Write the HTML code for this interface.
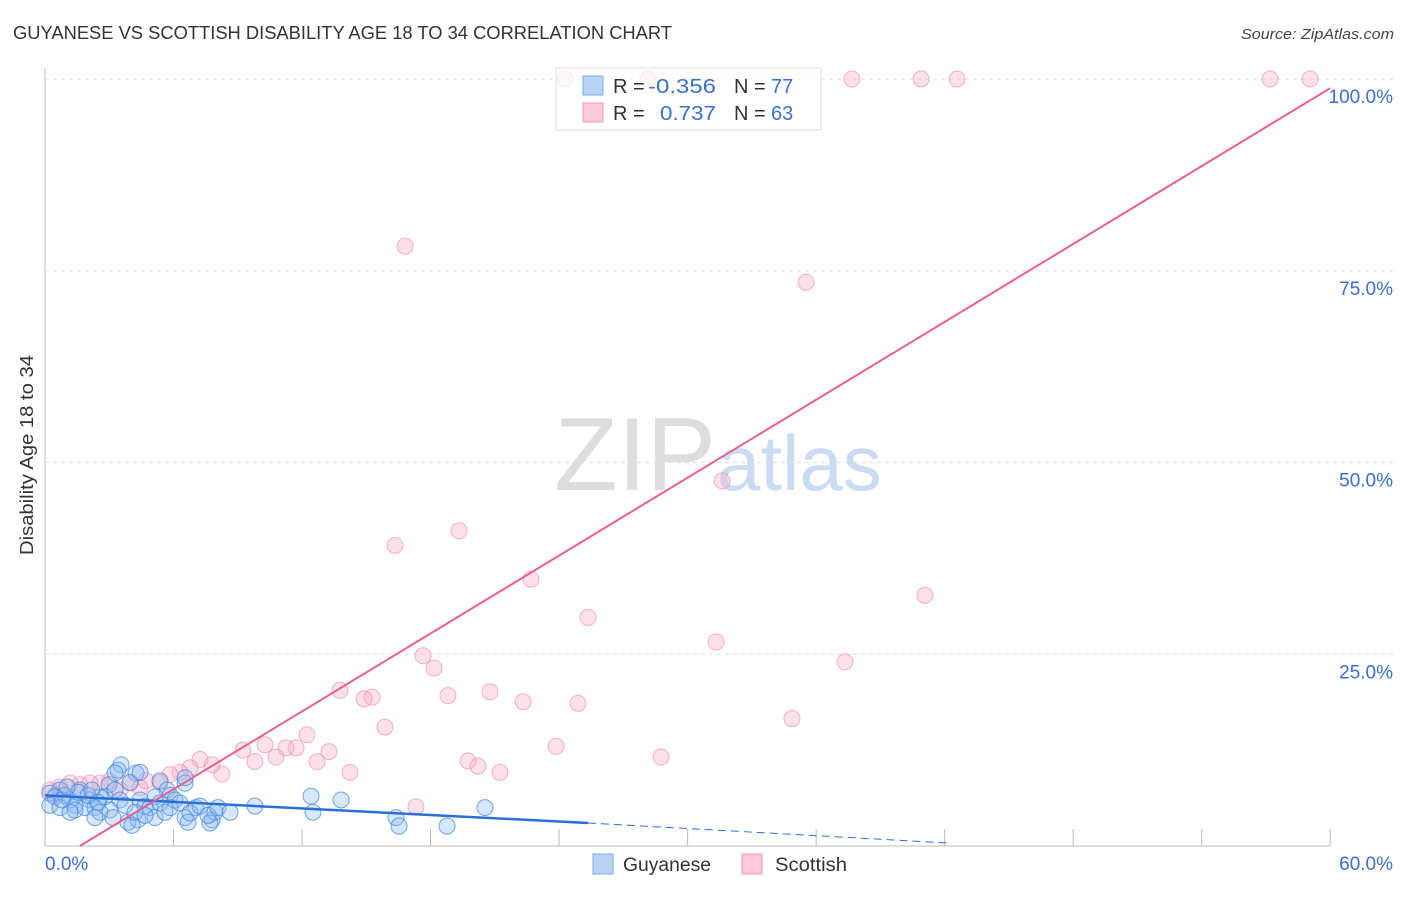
<!DOCTYPE html>
<html><head><meta charset="utf-8"><style>
body{margin:0;background:#fff;font-family:"Liberation Sans",sans-serif}
svg text{font-family:"Liberation Sans",sans-serif}
</style></head><body>
<svg id="chart" width="1406" height="892" xmlns="http://www.w3.org/2000/svg">
<text x="13" y="39" font-size="18" fill="#333" textLength="659" lengthAdjust="spacingAndGlyphs">GUYANESE VS SCOTTISH DISABILITY AGE 18 TO 34 CORRELATION CHART</text>
<text x="1394" y="39" font-size="15" fill="#444" font-style="italic" text-anchor="end" textLength="153" lengthAdjust="spacingAndGlyphs">Source: ZipAtlas.com</text>
<text transform="translate(33,455) rotate(-90)" font-size="18" fill="#333" text-anchor="middle" textLength="200" lengthAdjust="spacingAndGlyphs">Disability Age 18 to 34</text>
<g>
<text x="635" y="490" font-size="104" font-family="Liberation Serif,serif" fill="#ddd" text-anchor="middle">ZIP</text>
<text x="717" y="490" font-size="78" fill="#cbdcf2">atlas</text>
</g>
<g id="grid"></g><g id="pink"></g><g id="blue"></g><g id="lines"></g>
<g>
<rect x="556" y="68" width="265" height="62" fill="rgba(255,255,255,0.75)" stroke="#ddd"/>
<rect x="583" y="76" width="20" height="19" fill="#b9d3f5" stroke="#7aa8e8"/>
<rect x="583" y="103" width="20" height="19" fill="#fbcbd8" stroke="#f29bb4"/>
<text x="613" y="93" font-size="20" fill="#333">R =</text>
<text x="648" y="93" font-size="20" fill="#3b6fd0" textLength="68" lengthAdjust="spacingAndGlyphs">-0.356</text>
<text x="734" y="93" font-size="20" fill="#333">N =</text>
<text x="771" y="93" font-size="20" fill="#3b6fd0">77</text>
<text x="613" y="120" font-size="20" fill="#333">R =</text>
<text x="660" y="120" font-size="20" fill="#3b6fd0" textLength="56" lengthAdjust="spacingAndGlyphs">0.737</text>
<text x="734" y="120" font-size="20" fill="#333">N =</text>
<text x="771" y="120" font-size="20" fill="#3b6fd0">63</text>
</g>
<g>
<rect x="593" y="854" width="20" height="20" fill="#b9d3f5" stroke="#7aa8e8"/>
<text x="623" y="871" font-size="19" fill="#333" textLength="88" lengthAdjust="spacingAndGlyphs">Guyanese</text>
<rect x="742" y="854" width="20" height="20" fill="#fbcbd8" stroke="#f29bb4"/>
<text x="775" y="871" font-size="19" fill="#333" textLength="72" lengthAdjust="spacingAndGlyphs">Scottish</text>
</g>
</svg>
<script>
const yTicks=[25,50,75,100];
const yTickLabels=["25.0%","50.0%","75.0%","100.0%"];
const xTicks=[6,12,18,24,30,36,42,48,54,60];
const xEndLabels=["0.0%","60.0%"];
const pinkX=[24.28,28.15,37.67,40.90,42.58,57.19,59.06,16.81,35.53,31.61,19.33,16.34,22.69,41.08,25.35,31.33,17.65,18.16,37.35,13.77,15.27,14.89,18.81,20.78,22.32,24.88,15.87,34.87,23.86,28.76,19.75,20.21,21.24,17.32,14.24,13.26,11.72,11.25,10.27,12.23,12.70,10.78,9.24,9.80,7.24,6.77,8.26,6.30,5.84,4.72,5.37,3.97,3.03,2.57,2.10,1.63,1.17,0.70,0.23,0.47,3.50,4.44,7.80];
const pinkY=[100,100,100,100,100,100,100,78.2,73.5,47.6,41.1,39.2,34.8,32.7,29.8,26.6,24.8,23.2,24.0,20.3,19.4,19.2,19.6,20.1,18.8,18.6,15.5,16.6,13.0,11.6,11.1,10.4,9.6,5.1,9.6,12.3,12.8,12.8,13.2,14.5,11.0,11.6,12.5,11.0,11.3,10.2,9.4,9.6,9.3,8.5,8.3,8.2,8.5,8.2,8.2,8.0,8.2,7.7,7.3,6.6,7.3,7.6,10.6];
const blueX=[3.55,3.41,4.25,2.99,3.97,5.37,6.54,6.54,5.70,2.57,1.63,0.70,0.23,0.47,1.17,2.10,0.93,1.40,1.87,2.33,2.80,3.27,3.50,4.44,4.67,4.90,5.14,5.84,6.07,3.03,2.57,2.33,1.40,3.17,3.87,4.34,4.06,5.14,6.54,6.68,7.05,7.80,7.94,7.70,9.80,12.42,12.51,13.82,16.39,16.53,18.77,20.54,4.44,3.27,0.23,0.70,1.17,1.54,2.01,2.19,0.80,1.03,2.47,3.74,4.20,4.67,5.37,5.60,5.84,6.30,6.77,7.24,7.61,8.08,8.64];
const blueY=[10.6,9.9,9.5,8.0,8.3,8.5,8.2,8.9,7.3,6.4,7.3,7.3,6.9,6.4,6.0,6.0,6.6,5.3,5.0,5.0,6.4,7.3,6.0,6.0,5.2,5.0,6.4,6.6,6.0,4.7,4.4,3.7,4.7,3.7,3.1,3.4,2.7,3.7,3.7,3.1,5.0,3.4,4.4,3.0,5.2,6.5,4.4,6.0,3.7,2.6,2.6,5.0,9.6,9.5,5.3,5.0,4.4,7.0,6.6,7.3,6.0,7.7,5.7,5.3,4.4,4.0,5.6,4.4,5.0,5.6,4.3,5.2,4.0,5.0,4.4];
const blueFit=[[0,6.6],[25.35,3.0],[42.1,0.4]];
const pinkFit=[[1.63,0],[60,98.8]];
const NS="http://www.w3.org/2000/svg";
const X=v=>45+v*21.42, Y=v=>846-v*7.67;
function mk(p,t,a){const e=document.createElementNS(NS,t);for(const k in a)e.setAttribute(k,a[k]);document.getElementById(p).appendChild(e);return e;}
const g='grid';
let e=mk(g,'line',{x1:45,y1:68,x2:45,y2:846,stroke:'#bbb'});


e=mk(g,'line',{x1:45,y1:846,x2:1330,y2:846,stroke:'#bbb'});


yTicks.forEach((t,i)=>{
 e=mk(g,'line',{x1:45,y1:Y(t),x2:1395,y2:Y(t),stroke:'#ddd','stroke-dasharray':'4,4'});
 
 
 e=mk(g,'text',{x:1393,y:Y(t)+24,'font-size':19,fill:'#3b6fd0','text-anchor':'end'});e.textContent=yTickLabels[i];
 
 
});
xTicks.forEach(t=>{
 e=mk(g,'line',{x1:X(t),y1:829,x2:X(t),y2:846,stroke:'#bbb'});
 
 
});
e=mk(g,'text',{x:45,y:870,'font-size':19,fill:'#3b6fd0'});e.textContent=xEndLabels[0];


e=mk(g,'text',{x:1393,y:870,'font-size':19,fill:'#3b6fd0','text-anchor':'end'});e.textContent=xEndLabels[1];


pinkX.forEach((x,i)=>{
 e=mk('pink','circle',{cx:X(x),cy:Y(pinkY[i]),r:8,fill:'rgba(248,170,195,0.35)',stroke:'rgba(235,130,165,0.6)'});
 
 
});
blueX.forEach((x,i)=>{
 e=mk('blue','circle',{cx:X(x),cy:Y(blueY[i]),r:8,fill:'rgba(140,185,240,0.35)',stroke:'rgba(60,130,220,0.7)'});
 
 
});
e=mk('lines','line',{x1:X(blueFit[0][0]),y1:Y(blueFit[0][1]),x2:X(blueFit[1][0]),y2:Y(blueFit[1][1]),stroke:'#2b6fd6','stroke-width':2.5});


e=mk('lines','line',{x1:X(blueFit[1][0]),y1:Y(blueFit[1][1]),x2:X(blueFit[2][0]),y2:Y(blueFit[2][1]),stroke:'#2b6fd6','stroke-width':1,'stroke-dasharray':'8,5'});


e=mk('lines','line',{x1:X(pinkFit[0][0]),y1:Y(pinkFit[0][1]),x2:X(pinkFit[1][0]),y2:Y(pinkFit[1][1]),stroke:'#e8608e','stroke-width':2});


</script>
</body></html>
